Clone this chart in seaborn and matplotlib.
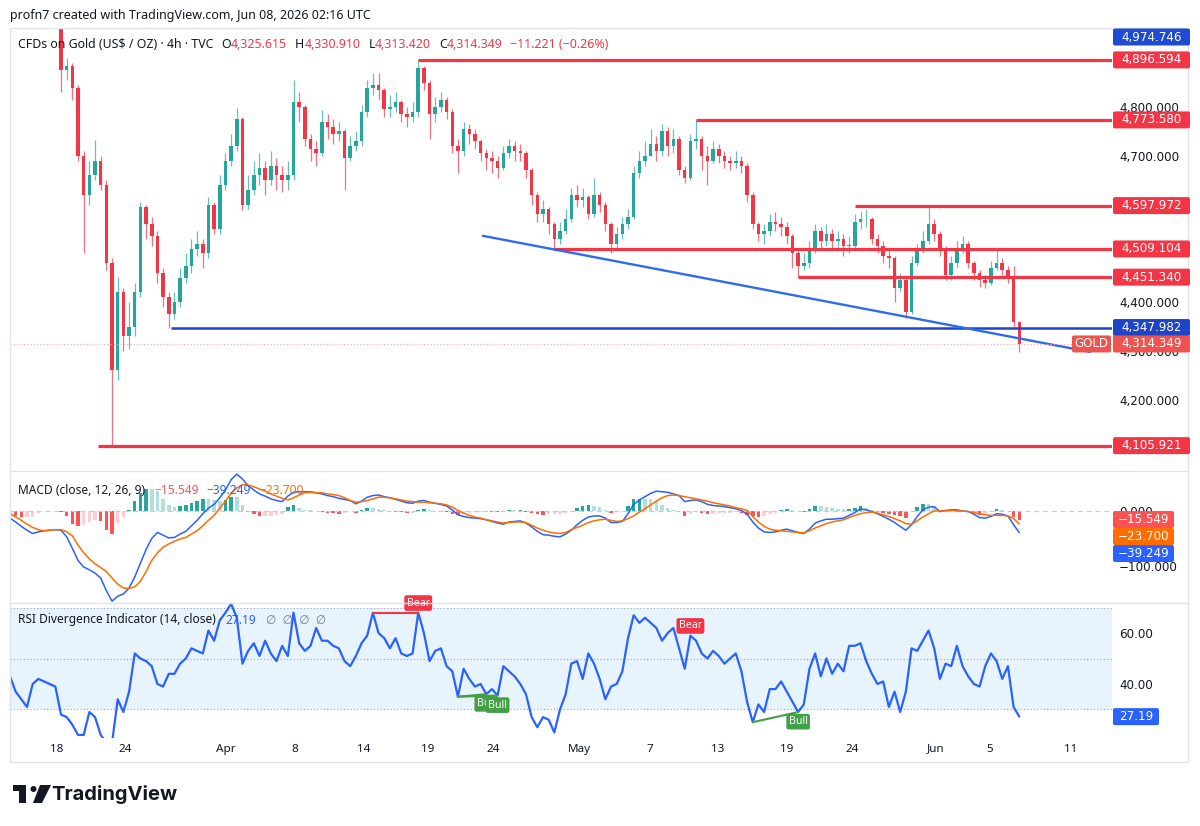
import numpy as np
import pandas as pd
import matplotlib
matplotlib.use("Agg")
import matplotlib.pyplot as plt
from matplotlib.patches import Rectangle, FancyBboxPatch, Polygon, Circle
from matplotlib.ticker import FuncFormatter
import seaborn as sns

# ---- data: 8h bars of CFDs on Gold, mid March -> Jun 8 2026 ----
closes = [5060, 5050, 5040, 5045, 5030, 5020, 5010, 4990, 4980, 4875,
          4885, 4840, 4700, 4620, 4660, 4690, 4640, 4480, 4260, 4420,
          4330, 4350, 4420, 4595, 4560, 4535, 4460, 4410, 4375, 4400,
          4450, 4475, 4510, 4520, 4500, 4600, 4550, 4640, 4690, 4720,
          4775, 4600, 4630, 4660, 4675, 4650, 4680, 4660, 4650, 4660,
          4810, 4800, 4735, 4715, 4705, 4770, 4760, 4745, 4750, 4695,
          4720, 4730, 4790, 4840, 4845, 4835, 4795, 4800, 4810, 4785,
          4780, 4790, 4880, 4850, 4785, 4800, 4815, 4790, 4720, 4710,
          4755, 4745, 4730, 4705, 4695, 4690, 4675, 4705, 4720, 4710,
          4705, 4670, 4620, 4580, 4590, 4560, 4530, 4545, 4570, 4620,
          4610, 4615, 4580, 4620, 4600, 4560, 4520, 4540, 4560, 4575,
          4665, 4690, 4700, 4725, 4710, 4750, 4720, 4735, 4670, 4655,
          4730, 4735, 4700, 4690, 4715, 4700, 4690, 4685, 4690, 4680,
          4620, 4560, 4540, 4545, 4565, 4560, 4555, 4535, 4500, 4475,
          4480, 4510, 4545, 4525, 4540, 4525, 4530, 4515, 4515, 4565,
          4570, 4570, 4530, 4515, 4495, 4490, 4430, 4445, 4380, 4480,
          4505, 4525, 4560, 4540, 4510, 4455, 4480, 4510, 4520, 4480,
          4460, 4445, 4440, 4470, 4480, 4465, 4450, 4360, 4314.349]
highs = [5080, 5075, 5060, 5065, 5050, 5040, 5030, 5015, 5000, 4990,
         4900, 4890, 4845, 4710, 4690, 4732, 4700, 4650, 4490, 4452,
         4430, 4400, 4440, 4605, 4600, 4575, 4545, 4470, 4420, 4420,
         4470, 4500, 4530, 4545, 4530, 4615, 4605, 4660, 4705, 4745,
         4798, 4780, 4660, 4690, 4705, 4690, 4710, 4695, 4680, 4690,
         4855, 4830, 4805, 4745, 4730, 4794, 4785, 4775, 4770, 4755,
         4740, 4750, 4805, 4855, 4870, 4870, 4840, 4825, 4830, 4815,
         4800, 4810, 4896.594, 4885, 4855, 4820, 4830, 4820, 4795, 4735,
         4770, 4765, 4755, 4735, 4715, 4710, 4700, 4720, 4735, 4730,
         4725, 4710, 4675, 4625, 4610, 4595, 4565, 4565, 4590, 4635,
         4640, 4635, 4620, 4655, 4625, 4605, 4565, 4555, 4575, 4590,
         4680, 4710, 4730, 4755, 4740, 4765, 4760, 4755, 4740, 4680,
         4745, 4773.58, 4740, 4720, 4730, 4725, 4710, 4700, 4710, 4700,
         4685, 4625, 4565, 4560, 4580, 4585, 4575, 4565, 4540, 4505,
         4500, 4525, 4560, 4555, 4560, 4550, 4545, 4540, 4535, 4580,
         4585, 4590, 4575, 4540, 4525, 4510, 4495, 4460, 4450, 4495,
         4520, 4545, 4597, 4570, 4545, 4515, 4495, 4525, 4535, 4525,
         4485, 4465, 4455, 4485, 4510, 4490, 4475, 4475, 4362]
lows = [5040, 5035, 5025, 5030, 5015, 5005, 4995, 4975, 4968, 4830,
        4855, 4815, 4690, 4500, 4600, 4650, 4630, 4466, 4105.921, 4240,
        4300, 4305, 4330, 4410, 4530, 4515, 4440, 4390, 4347.982, 4365,
        4390, 4440, 4460, 4495, 4470, 4490, 4540, 4540, 4630, 4680,
        4710, 4589, 4590, 4620, 4640, 4620, 4640, 4630, 4625, 4630,
        4650, 4770, 4720, 4690, 4680, 4700, 4735, 4725, 4730, 4630,
        4690, 4710, 4720, 4780, 4825, 4815, 4780, 4780, 4790, 4770,
        4760, 4770, 4780, 4835, 4735, 4770, 4790, 4775, 4705, 4665,
        4700, 4725, 4715, 4690, 4670, 4665, 4655, 4670, 4695, 4690,
        4690, 4655, 4600, 4565, 4565, 4540, 4511, 4520, 4540, 4565,
        4595, 4595, 4570, 4575, 4585, 4545, 4500, 4510, 4530, 4550,
        4570, 4655, 4680, 4700, 4690, 4700, 4700, 4705, 4660, 4645,
        4650, 4715, 4670, 4640, 4685, 4685, 4675, 4670, 4675, 4665,
        4605, 4550, 4525, 4520, 4535, 4545, 4535, 4520, 4470, 4451.34,
        4465, 4470, 4500, 4510, 4515, 4510, 4505, 4495, 4500, 4505,
        4550, 4555, 4520, 4500, 4480, 4470, 4400, 4420, 4367, 4375,
        4475, 4500, 4520, 4525, 4495, 4445, 4445, 4470, 4500, 4470,
        4445, 4432, 4430, 4435, 4465, 4455, 4440, 4350, 4298]

macd_line = [-13, -20, -28, -35, -41, -38, -36, -35, -34, -35,
             -47, -68, -90, -102, -107, -113, -122, -145, -164, -155,
             -151, -140, -120, -95, -70, -50, -39, -44, -49, -48,
             -42, -37, -27, -17, -5, 5, 12, 24, 38, 57,
             67, 58, 46, 38, 31, 27, 22, 19, 17, 27,
             34, 35, 35, 35, 33, 31, 28, 26, 23, 21,
             19, 13, 18, 25, 28, 29, 26, 24, 21, 18,
             15, 14, 18, 19, 16, 14, 12, 9, 2, -7,
             -10, -12, -13, -14, -16, -19, -22, -24, -20, -19,
             -18, -22, -29, -37, -43, -44, -46, -47, -42, -35,
             -25, -17, -11, -9, -9, -13, -21, -21, -19, -5,
             12, 20, 26, 32, 36, 35, 34, 31, 28, 17,
             19, 20, 17, 12, 10, 9, 8, 6, 4, 1,
             -6, -20, -31, -38, -39, -38, -35, -33, -36, -39,
             -41, -33, -22, -18, -15, -15, -14, -13, -8, -3,
             4, 2, -1, -5, -10, -15, -21, -28, -35, -25,
             -10, 2, 7, 8, -1, 1, 2, 2, 0, -1,
             -6, -12, -13, -10, -5, -6, -9, -25, -39.249]
signal_line = [-5, -11, -17, -24, -30, -34, -36, -35, -34, -34,
               -38, -45, -62, -76, -87, -96, -103, -110, -122, -133,
               -140, -141, -138, -128, -110, -90, -76, -66, -60, -55,
               -51, -48, -42, -36, -27, -17, -8, 5, 18, 32,
               42, 48, 47, 44, 40, 36, 31, 27, 23, 20,
               24, 29, 33, 34, 33, 33, 31, 30, 28, 24,
               19, 16, 17, 19, 22, 25, 25, 24, 22, 20,
               18, 17, 16, 16, 15, 14, 13, 11, 7, 1,
               -4, -8, -11, -13, -16, -18, -20, -22, -21, -20,
               -20, -21, -26, -31, -35, -38, -40, -41, -39, -34,
               -30, -26, -21, -18, -16, -15, -17, -19, -18, -14,
               -9, -2, 4, 11, 18, 24, 28, 29, 28, 26,
               24, 22, 20, 18, 15, 13, 11, 9, 6, 4,
               1, -10, -20, -28, -33, -35, -36, -37, -38, -39,
               -40, -36, -31, -27, -23, -20, -18, -16, -12, -8,
               -5, -3, -2, -4, -7, -10, -14, -18, -23, -24,
               -18, -11, -5, 0, 0, 0, 1, 0, 0, -1,
               -3, -5, -7, -8, -8, -8, -9, -14, -23.700]
rsi = [43, 37, 34, 31, 40, 42, 41, 40, 39, 28,
       27, 24, 20, 20, 29, 27, 20, 17, 17, 34,
       29, 37, 52, 50, 49, 47, 40, 39, 44, 44,
       48, 50, 54, 53, 52, 61, 57, 65, 68, 71.5,
       66, 48, 53, 56, 51, 57, 52, 49, 55, 51,
       68, 56, 53, 55, 62, 57, 57, 55, 54, 49,
       47, 51, 56, 59, 68, 60, 58, 54, 58, 52,
       51, 52, 68, 60, 49, 53, 54, 47, 45, 35,
       46, 42, 39, 40, 36, 38, 35.5, 47, 45, 43,
       40, 36, 27, 23, 27, 26, 21, 30, 36, 48,
       49, 42, 52, 48, 42, 34, 39, 40, 45, 58,
       67, 64, 66, 64, 62, 57, 60, 62, 54, 46,
       59, 57, 52, 50, 53, 51, 48, 50, 52, 45,
       33, 25, 32, 29, 38, 38, 41, 37, 33, 29,
       32, 46, 52, 43, 50, 44, 48, 45, 55, 55,
       56, 49, 44, 40, 41, 31, 37, 29, 37, 54,
       53, 57, 61, 54, 42, 48, 47, 55, 47, 43,
       40, 39, 47, 52, 49, 42, 47, 31, 27.19]

last_ohlc = [4325.615, 4330.910, 4313.420, 4314.349]
last_change = -11.221
last_change_pct = -0.26

red_levels = [4896.594, 4773.580, 4597.972, 4509.104, 4451.340, 4105.921]
red_level_start = [72, 121, 149, 96, 139, 15.5]
support_level = 4347.982
support_start = 28.4
top_level = 4974.746
trend_x = [83.4, 190.5]
trend_y = [4536, 4298]

bear_divs = [(64, 72), (120, 120)]
bull_divs = [(79, 84), (79, 86), (131, 139)]

price_ticks = [4200, 4300, 4400, 4700, 4800]
date_ticks = [8.3, 20.3, 38.1, 50.3, 62.3, 73.6, 85.2, 100.5, 112.9, 124.9,
              136.9, 148.5, 163.3, 172.8, 187.1]
date_labels = ['18', '24', 'Apr', '8', '14', '19', '24', 'May', '7', '13',
               '19', '24', 'Jun', '5', '11']

# ---- style ----
UP = '#26A69A'
DN = '#F23645'
TXT = '#131722'
BLUE = '#2962FF'
ORANGE = '#FF6D00'
GRID = '#E0E3EB'
AXFONT = ['DejaVu Sans']

W, H = 1200, 826
sns.set_theme(style="white")
plt.rcParams['font.family'] = ['Noto Sans', 'DejaVu Sans']

fig = plt.figure(figsize=(W / 100, H / 100), dpi=100)


def frac(x0, y0, x1, y1):
    return [x0 / W, 1 - y1 / H, (x1 - x0) / W, (y1 - y0) / H]


ax_p = fig.add_axes(frac(10, 28, 1112, 470))
ax_m = fig.add_axes(frac(10, 470, 1112, 602))
ax_r = fig.add_axes(frac(10, 602, 1112, 738))

n = len(closes)
idx = np.arange(n)
xmax = 1102 / 5.67

# candles
df = pd.DataFrame({'close': closes, 'high': highs, 'low': lows})
df['open'] = df['close'].shift(1).fillna(df['close'].iloc[0] + 10)
up = df['close'] >= df['open']
col = np.where(up, UP, DN)
ax_p.vlines(idx, df['low'], df['high'], colors=col, lw=0.9, alpha=0.7)
body = (df['close'] - df['open']).abs().clip(lower=1.5)
ax_p.bar(idx, body, bottom=df[['open', 'close']].min(axis=1), width=0.62,
         color=col, lw=0)

# drawn levels
for lvl, st in zip(red_levels, red_level_start):
    ax_p.hlines(lvl, st, xmax, color=DN, lw=2.3)
ax_p.hlines(support_level, support_start, xmax, color='#1E44C8', lw=1.8)
ax_p.plot(trend_x, trend_y, color='#2E6BEF', lw=1.7)
ax_p.axhline(closes[-1], color='#F5A3A9', ls=(0, (1, 2)), lw=0.8)

ax_p.set_ylim(4056, 4962)
ax_p.yaxis.tick_right()
ax_p.set_yticks(price_ticks)
ax_p.yaxis.set_major_formatter(FuncFormatter(lambda v, p: f"{v:,.3f}"))

# MACD
macd_a = np.array(macd_line, dtype=float)
sig_a = np.array(signal_line, dtype=float)
hist = macd_a - sig_a
prev = np.r_[hist[0], hist[:-1]]
hcol = np.where(hist >= 0,
                np.where(hist > prev, '#26A69A', '#B2DFDB'),
                np.where(hist < prev, '#FF5252', '#FFCDD2'))
ax_m.bar(idx, hist, width=0.62, color=hcol, lw=0)
ax_m.axhline(0, color='#C9CCD4', ls=(0, (4, 3)), lw=0.9)
sns.lineplot(x=idx, y=macd_a, ax=ax_m, color=BLUE, lw=1.1)
sns.lineplot(x=idx, y=sig_a, ax=ax_m, color=ORANGE, lw=1.1)
ax_m.set_ylim(-165.5, 74.5)
ax_m.yaxis.tick_right()
ax_m.set_yticks([0, -100])
ax_m.yaxis.set_major_formatter(FuncFormatter(lambda v, p: f"{v:,.3f}".replace('-', '\u2212')))

# RSI
rsi_a = np.array(rsi, dtype=float)
ax_r.axhspan(30, 70, color='#E7F3FD', lw=0)
for lv in (70, 50, 30):
    ax_r.axhline(lv, color='#A3A6AF', ls=(0, (1, 2)), lw=0.8)
sns.lineplot(x=idx, y=rsi_a, ax=ax_r, color=BLUE, lw=1.6)
ax_r.set_ylim(18.8, 72.2)
ax_r.yaxis.tick_right()
ax_r.set_yticks([60, 40])
ax_r.yaxis.set_major_formatter(FuncFormatter(lambda v, p: f"{v:.2f}"))

for a, b in bear_divs:
    if a != b:
        ax_r.plot([a, b], [rsi_a[a], rsi_a[b]], color=DN, lw=1.5)
    ax_r.annotate('Bear', (b, rsi_a[b]), xytext=(0, 3), textcoords='offset points',
                  ha='center', va='bottom', color='white', fontsize=7.6,
                  bbox=dict(boxstyle='round,pad=0.22', fc=DN, ec='none'))
for a, b in bull_divs:
    ax_r.plot([a, b], [rsi_a[a], rsi_a[b]], color='#43A047', lw=1.5)
    ax_r.annotate('Bull', (b, rsi_a[b]), xytext=(0, -3), textcoords='offset points',
                  ha='center', va='top', color='white', fontsize=7.6,
                  bbox=dict(boxstyle='round,pad=0.22', fc='#43A047', ec='none'))

ax_r.set_xticks(date_ticks)
ax_r.set_xticklabels(date_labels)

for ax in (ax_p, ax_m, ax_r):
    ax.set_xlim(0, xmax)
    for s in ax.spines.values():
        s.set_visible(False)
    ax.tick_params(axis='y', length=0, pad=5, labelsize=8.6, labelcolor=TXT)
    for t in ax.get_yticklabels():
        t.set_family(AXFONT)
    ax.set_xlabel('')
    ax.set_ylabel('')
for ax in (ax_p, ax_m):
    ax.tick_params(axis='x', bottom=False, labelbottom=False)
ax_r.tick_params(axis='x', length=0, pad=4, labelsize=8.4, labelcolor=TXT)

# ---- overlay in pixel coordinates ----
ov = fig.add_axes([0, 0, 1, 1])
ov.set_xlim(0, W)
ov.set_ylim(H, 0)
ov.axis('off')


def ypix(ax, v):
    return H - ax.transData.transform((0, v))[1]


def tag(x, y, w, s, c, h=17):
    ov.add_patch(FancyBboxPatch((x, y - h / 2), w, h, boxstyle='round,pad=0,rounding_size=2',
                                fc=c, ec='none'))
    ov.text(x + w / 2, y, s, color='white', fontsize=8.6, ha='center', va='center',
            family=AXFONT)


# frame
ov.add_patch(Rectangle((10, 28), 1178, 734, fill=False, ec=GRID, lw=1))
ov.hlines([471, 603], 10, 1188, color=GRID, lw=1)

# price tags
tag(1113, max(ypix(ax_p, top_level), 37), 77, f"{top_level:,.3f}", '#1E4BD2')
for lvl in red_levels:
    tag(1113, ypix(ax_p, lvl), 77, f"{lvl:,.3f}", DN)
tag(1113, ypix(ax_p, support_level), 77, f"{support_level:,.3f}", '#1E44C8')
y_last = ypix(ax_p, closes[-1])
tag(1113, y_last, 77, f"{closes[-1]:,.3f}", '#EF5350')
tag(1072, y_last, 39, 'GOLD', '#EF5350')

# MACD tags (stacked)
fmt = lambda v: f"{v:.3f}".replace('-', '\u2212')
prev_y = -1e9
for v, c in [(hist[-1], '#FF5252'), (sig_a[-1], ORANGE), (macd_a[-1], BLUE)]:
    y = max(ypix(ax_m, v), prev_y + 17)
    tag(1113, y, 61, fmt(v), c)
    prev_y = y

tag(1113, ypix(ax_r, rsi_a[-1]), 46, f"{rsi_a[-1]:.2f}", BLUE)

# legends
renderer = fig.canvas.get_renderer()


def rich(x, y, parts, size=8.9):
    for s, c, gap in parts:
        t = ov.text(x, y, s, color=c, fontsize=size, ha='left', va='center')
        x += t.get_window_extent(renderer).width + gap


ov.text(10, 15, "profn7 created with TradingView.com, Jun 08, 2026 02:16 UTC",
        color=TXT, fontsize=9, ha='left', va='center')

o, h, l, c = [f"{v:,.3f}" for v in last_ohlc]
chg = f"{last_change:+.3f} ({last_change_pct:+.2f}%)".replace('-', '\u2212')
rich(18, 44, [("CFDs on Gold (US$ / OZ) \u00b7 4h \u00b7 TVC", TXT, 8),
              ("O", TXT, 0), (o, DN, 8), ("H", TXT, 0), (h, DN, 8),
              ("L", TXT, 0), (l, DN, 8), ("C", TXT, 0), (c, DN, 8), (chg, DN, 0)])
rich(18, 490, [("MACD (close, 12, 26, 9)", TXT, 9), (fmt(hist[-1]), '#FF5252', 8),
               (fmt(macd_a[-1]), BLUE, 8), (fmt(sig_a[-1]), ORANGE, 0)], size=8.6)
rich(18, 620, [("RSI Divergence Indicator (14, close)", TXT, 9),
               (f"{rsi_a[-1]:.2f}", BLUE, 10), ("\u2205  \u2205  \u2205  \u2205", '#787B86', 0)],
     size=8.6)

# footer logo
ov.add_patch(Rectangle((13, 785), 13, 6, color=TXT, lw=0))
ov.add_patch(Rectangle((19, 785), 7, 18, color=TXT, lw=0))
ov.add_patch(Circle((33.5, 789), 3, color=TXT, lw=0))
ov.add_patch(Polygon([(40, 785), (51, 785), (42, 803), (33, 803)], closed=True, color=TXT, lw=0))
ov.text(51, 795, "TradingView", color=TXT, fontsize=14.5, fontweight='bold',
        ha='left', va='center', family=['Inter', 'DejaVu Sans'])

fig.savefig('out.png', dpi=100)
